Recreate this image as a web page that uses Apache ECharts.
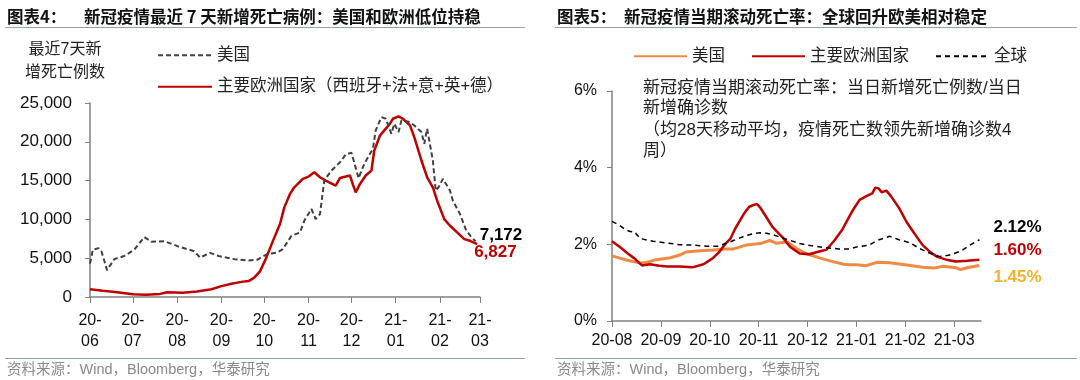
<!DOCTYPE html>
<html><head><meta charset="utf-8">
<script src="https://cdn.jsdelivr.net/npm/echarts@6/dist/echarts.min.js"></script>
<style>html,body{margin:0;padding:0;background:#fff}#wrap{width:1080px;height:380px;display:flex}#c1,#c2{width:540px;height:380px}</style>
</head><body><div id="wrap"><div id="c1"></div><div id="c2"></div></div>
<script>
// ---------- Chart 4: 7-day new deaths ----------
const deathDatesUS = ['2020-06-01','2020-06-03','2020-06-07','2020-06-09','2020-06-13','2020-06-18','2020-06-25','2020-07-02','2020-07-09','2020-07-14','2020-07-23','2020-08-02','2020-08-13','2020-08-17','2020-08-24','2020-08-30','2020-09-10','2020-09-19','2020-09-26','2020-10-03','2020-10-10','2020-10-14','2020-10-20','2020-10-26','2020-10-29','2020-11-03','2020-11-06','2020-11-09','2020-11-12','2020-11-17','2020-11-23','2020-11-27','2020-12-01','2020-12-03','2020-12-06','2020-12-10','2020-12-14','2020-12-16','2020-12-18','2020-12-22','2020-12-25','2020-12-29','2020-12-31','2021-01-03','2021-01-05','2021-01-11','2021-01-14','2021-01-19','2021-01-21','2021-01-23','2021-01-24','2021-01-27','2021-01-29','2021-01-31','2021-02-03','2021-02-08','2021-02-10','2021-02-15','2021-02-19','2021-02-23','2021-02-26'];
const deathUS = [4300,6100,6300,5900,3450,4880,5280,6100,7720,7110,7200,6500,5900,5080,5690,5280,4880,4700,4800,5520,5730,6160,7890,8320,9830,11340,10040,10690,15000,16290,17370,18360,18600,17300,15300,17160,18450,19090,21470,23190,22970,21030,22330,21250,22760,22540,22110,21250,19740,21680,21470,17590,13710,14140,15220,13710,12410,10690,8750,7670,7172];
const deathDatesEU = ['2020-06-01','2020-06-10','2020-06-20','2020-07-01','2020-07-10','2020-07-20','2020-07-25','2020-08-05','2020-08-15','2020-08-25','2020-09-01','2020-09-08','2020-09-15','2020-09-20','2020-09-24','2020-09-28','2020-10-02','2020-10-07','2020-10-12','2020-10-15','2020-10-19','2020-10-22','2020-10-28','2020-11-01','2020-11-05','2020-11-09','2020-11-13','2020-11-20','2020-11-23','2020-11-30','2020-12-02','2020-12-04','2020-12-07','2020-12-11','2020-12-15','2020-12-17','2020-12-21','2020-12-24','2020-12-28','2020-12-30','2021-01-03','2021-01-06','2021-01-11','2021-01-14','2021-01-19','2021-01-23','2021-01-27','2021-01-30','2021-02-04','2021-02-08','2021-02-13','2021-02-18','2021-02-22','2021-02-27'];
const deathEU = [1000,800,600,350,300,400,600,550,700,1000,1400,1700,1950,2050,2500,3300,4900,7200,9400,11550,13280,14140,15220,15520,16080,15430,15000,14350,15340,15650,14500,13490,14570,15650,16290,18880,20820,21470,22330,22970,23280,22970,22110,20600,17590,15430,14140,12410,10040,9180,8320,7460,7240,6827];
const deathYTicks = [0,5000,10000,15000,20000,25000];

// ---------- Chart 5: rolling fatality rate (%) ----------
// x = days since 2020-08-01
const rateTickLabels = ['20-08','20-09','20-10','20-11','20-12','21-01','21-02','21-03'];
const rateDayUS = [0,5,11,18,22,28,37,43,47,56,64,72,77,85,94,100,104,111,117,123,132,140,147,151,155,161,168,176,187,197,204,210,218,221,225,233];
const rateUS = [1.70,1.64,1.57,1.51,1.53,1.60,1.65,1.72,1.80,1.83,1.85,1.88,1.88,1.98,2.02,2.10,2.03,2.06,1.89,1.76,1.64,1.55,1.48,1.47,1.47,1.44,1.53,1.52,1.46,1.40,1.38,1.43,1.39,1.34,1.39,1.45];
const rateDayEU = [0,5,10,14,19,24,30,35,43,51,58,64,68,72,75,78,81,84,87,90,92,94,98,102,108,113,119,125,132,136,141,146,149,153,157,161,165,167,169,171,174,177,182,187,192,197,202,206,212,218,225,233];
const rateEU = [2.08,1.93,1.76,1.64,1.45,1.48,1.44,1.42,1.42,1.40,1.48,1.64,1.80,2.02,2.14,2.40,2.61,2.82,2.98,3.03,3.05,2.96,2.70,2.44,2.19,1.93,1.76,1.74,1.82,1.86,2.10,2.38,2.61,2.91,3.16,3.25,3.33,3.48,3.46,3.36,3.40,3.25,2.95,2.57,2.27,1.98,1.79,1.68,1.60,1.55,1.57,1.60];
const rateDayGlobal = [0,5,9,12,14,18,26,34,43,51,60,67,73,77,85,90,94,98,102,111,119,127,136,144,151,155,163,168,176,182,189,195,202,208,214,221,227,233];
const rateGlobal = [2.60,2.49,2.37,2.33,2.34,2.15,2.08,2.04,1.99,1.98,1.95,1.95,2.03,2.10,2.23,2.28,2.30,2.29,2.25,2.13,2.02,1.96,1.91,1.88,1.88,1.93,1.98,2.10,2.21,2.12,2.04,1.89,1.76,1.68,1.72,1.82,1.98,2.12];
const rateYTicks = [0,2,4,6];
const rateNote = ['新冠疫情当期滚动死亡率：当日新增死亡例数/当日','新增确诊数','（均28天移动平均，疫情死亡数领先新增确诊数4','周）'];

const LAT = "'Liberation Sans', Arial, 'Noto Sans CJK SC', sans-serif";
const CJK = "'Liberation Sans', 'Noto Sans CJK SC', sans-serif";
const AXC = '#808080';
const RED = '#C00000';
const ORANGE = '#EF8A45';

function zip(a, b) { return a.map((d, i) => [d, b[i]]); }

function header(label, title, labelX, titleX, lineX1, lineX2) {
  return [
    {type:'text', x:labelX, y:17, style:{text:label, font:"bold 16.5px 'Noto Sans CJK SC'", fill:'#111', verticalAlign:'middle'}},
    {type:'text', x:titleX, y:17, style:{text:title, font:"bold 16.5px 'Noto Sans CJK SC'", fill:'#111', verticalAlign:'middle'}},
    {type:'line', shape:{x1:lineX1, y1:27.5, x2:lineX2, y2:27.5}, style:{stroke:'#8EA2BC', lineWidth:1}},
    {type:'line', shape:{x1:lineX1, y1:358.5, x2:lineX2, y2:358.5}, style:{stroke:'#8EA2BC', lineWidth:1}},
    {type:'text', x:labelX, y:370, style:{text:'资料来源：Wind，Bloomberg，华泰研究', font:"14.5px " + CJK, fill:'#8a8a8a', verticalAlign:'middle'}}
  ];
}

// ----- left chart -----
const c1 = echarts.init(document.getElementById('c1'), null, {renderer:'canvas'});
c1.setOption({
  animation:false,
  graphic: header('图表4：', '新冠疫情最近 7 天新增死亡病例：美国和欧洲低位持稳', 7, 84, 5, 525).concat([
    {type:'text', x:65, y:50, style:{text:'最近7天新', font:"16px " + CJK, fill:'#222', align:'center', verticalAlign:'middle'}},
    {type:'text', x:65, y:73, style:{text:'增死亡例数', font:"16px " + CJK, fill:'#222', align:'center', verticalAlign:'middle'}}
  ]),
  legend:{
    orient:'vertical', left:152, top:42, itemWidth:54, itemHeight:12, itemGap:15,
    itemStyle:{opacity:0},
    textStyle:{fontSize:16.5, fontFamily:CJK, color:'#222'},
    data:['美国','主要欧洲国家（西班牙+法+意+英+德）']
  },
  grid:{left:90, top:103, width:390, height:194},
  xAxis:{
    type:'time', min:'2020-06-01', max:'2021-03-01', splitNumber:9,
    minInterval:28*86400000, maxInterval:31*86400000,
    axisLine:{show:true, lineStyle:{color:AXC, width:1.5}},
    axisTick:{show:true, length:6, lineStyle:{color:AXC}},
    splitLine:{show:false},
    axisLabel:{
      fontSize:16, fontFamily:LAT, color:'#111', lineHeight:21, margin:13, hideOverlap:false,
      formatter:function(v){ const d=new Date(v); const y=String(d.getFullYear()).slice(2); const m=String(d.getMonth()+1).padStart(2,'0'); return y+'-\n'+m; }
    }
  },
  yAxis:{
    type:'value', min:deathYTicks[0], max:deathYTicks[deathYTicks.length-1], interval:deathYTicks[1]-deathYTicks[0],
    axisLine:{show:true, lineStyle:{color:AXC, width:1.5}},
    axisTick:{show:true, length:5, lineStyle:{color:AXC}},
    splitLine:{show:false},
    axisLabel:{fontSize:17, fontFamily:LAT, color:'#111', margin:18, formatter:v=>v.toLocaleString('en-US')}
  },
  series:[
    {name:'美国', type:'line', data:zip(deathDatesUS, deathUS), symbol:'none',
     lineStyle:{color:'#404040', width:2, type:[5,3]}, itemStyle:{color:'#404040'}, z:3,
     endLabel:{show:true, formatter:p=>p.value[1].toLocaleString('en-US'), fontSize:17, fontWeight:'bold', fontFamily:LAT, color:'#000', offset:[-4,-6]}},
    {name:'主要欧洲国家（西班牙+法+意+英+德）', type:'line', data:zip(deathDatesEU, deathEU), symbol:'none',
     lineStyle:{color:RED, width:2.5}, itemStyle:{color:RED}, z:2,
     endLabel:{show:true, formatter:p=>p.value[1].toLocaleString('en-US'), fontSize:17, fontWeight:'bold', fontFamily:LAT, color:RED, offset:[-11,8]}}
  ]
});

// ----- right chart -----
const c2 = echarts.init(document.getElementById('c2'), null, {renderer:'canvas'});
const noteY = [88,108,130,151];
c2.setOption({
  animation:false,
  graphic: header('图表5：', '新冠疫情当期滚动死亡率：全球回升欧美相对稳定', 17, 84, 15, 537).concat(
    rateNote.map((t,i)=>({type:'text', x:103, y:noteY[i], style:{text:t, font:"17px " + CJK, fill:'#222', verticalAlign:'middle'}}))
  ),
  legend:{
    orient:'horizontal', left:88, top:43, itemWidth:53, itemHeight:12, itemGap:26,
    itemStyle:{opacity:0},
    textStyle:{fontSize:16.5, fontFamily:CJK, color:'#222'},
    data:['美国','主要欧洲国家','全球']
  },
  grid:{left:72, top:91, width:369, height:230},
  xAxis:{
    type:'value', min:0, max:234, interval:31,
    axisLine:{show:true, lineStyle:{color:AXC, width:1.5}},
    axisTick:{show:true, length:6, lineStyle:{color:AXC}},
    splitLine:{show:false},
    axisLabel:{fontSize:16, fontFamily:LAT, color:'#111', margin:12, showMaxLabel:false,
      formatter:v=> (v % 31 === 0 ? (rateTickLabels[v/31] || '') : '')}
  },
  yAxis:{
    type:'value', min:rateYTicks[0], max:rateYTicks[rateYTicks.length-1], interval:rateYTicks[1]-rateYTicks[0],
    axisLine:{show:true, lineStyle:{color:AXC, width:1.5}},
    axisTick:{show:true, length:5, lineStyle:{color:AXC}},
    splitLine:{show:false},
    axisLabel:{fontSize:16, fontFamily:LAT, color:'#111', margin:15, formatter:'{value}%'}
  },
  series:[
    {name:'美国', type:'line', data:zip(rateDayUS, rateUS), symbol:'none', z:2,
     lineStyle:{color:ORANGE, width:3}, itemStyle:{color:ORANGE},
     endLabel:{show:true, formatter:p=>p.value[1].toFixed(2)+'%', fontSize:17, fontWeight:'bold', fontFamily:LAT, color:'#F5B128', offset:[6,12]}},
    {name:'主要欧洲国家', type:'line', data:zip(rateDayEU, rateEU), symbol:'none', z:3,
     lineStyle:{color:RED, width:2.5}, itemStyle:{color:RED},
     endLabel:{show:true, formatter:p=>p.value[1].toFixed(2)+'%', fontSize:17, fontWeight:'bold', fontFamily:LAT, color:RED, offset:[6,-9]}},
    {name:'全球', type:'line', data:zip(rateDayGlobal, rateGlobal), symbol:'none', z:4,
     lineStyle:{color:'#000', width:1.5, type:[5,4]}, itemStyle:{color:'#000'},
     endLabel:{show:true, formatter:p=>p.value[1].toFixed(2)+'%', fontSize:17, fontWeight:'bold', fontFamily:LAT, color:'#000', offset:[6,-12]}}
  ]
});
</script>
</body></html>
